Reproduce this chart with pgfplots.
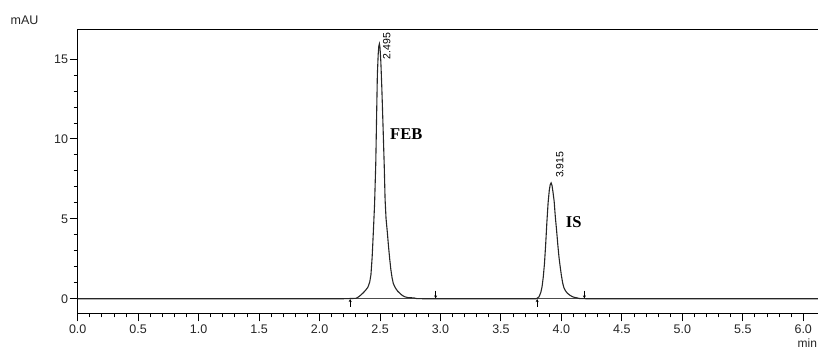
\documentclass[border=0pt]{standalone}
\usepackage{pgfplots}
\pgfplotsset{compat=1.18}
\usepackage{fontspec}
\setmainfont{Liberation Sans}
\newfontfamily\serifbold{Liberation Serif}
\usetikzlibrary{arrows.meta}

\begin{document}
\begin{tikzpicture}
\begin{axis}[
  at={(0,0)}, anchor=south west,
  scale only axis,
  width=740.3pt, height=284.3pt,
  xmin=0, xmax=6.122,
  ymin=-0.914, ymax=16.88,
  axis x line=bottom, axis y line=left,
  axis line style={-, line width=1pt, black},
  tick align=outside,
  major tick length=8pt, minor tick length=4pt,
  tick style={line width=0.9pt, black},
  xtick={0,0.5,...,6.0},
  ytick={0,5,10,15},
  minor x tick num=4,
  minor y tick num=4,
  xticklabel={\pgfmathprintnumber[fixed,fixed zerofill,precision=1]{\tick}},
  /pgf/number format/assume math mode=true,
  ticklabel style={font=\fontsize{12.5}{14}\selectfont, text=black!85},
  yticklabel style={inner sep=1.5pt},
  xticklabel style={inner sep=3pt},
  clip=false,
]
% top frame line
\draw[line width=1pt] (rel axis cs:0,1) -- (rel axis cs:1,1);
% baseline
\addplot[line width=1pt, black!70, mark=none] coordinates {(0,0) (6.122,0)};
% signal
\addplot[line width=1.1pt, black!85, mark=none] coordinates {
(0,0) (2.20,0) (2.30,0.02) (2.32,0.10) (2.34,0.22) (2.36,0.36) (2.38,0.52)
(2.40,0.72) (2.415,1.05) (2.425,1.5) (2.435,2.6) (2.445,4.2) (2.455,5.9)
(2.465,8.5) (2.472,11.5) (2.478,14.0) (2.485,15.3) (2.490,15.8) (2.495,15.95)
(2.500,15.7) (2.507,14.8) (2.515,13.2) (2.525,10.8) (2.535,8.3) (2.542,6.2)
(2.550,5.0) (2.560,4.2) (2.570,3.3) (2.580,2.5) (2.590,1.8) (2.600,1.3)
(2.610,0.95) (2.625,0.70) (2.645,0.48) (2.665,0.33) (2.685,0.20) (2.705,0.12)
(2.73,0.07) (2.78,0.05) (2.80,0.01) (2.85,0)
(3.79,0) (3.80,0.03) (3.815,0.12) (3.83,0.40) (3.84,0.75) (3.85,1.35)
(3.86,2.2) (3.87,3.4) (3.88,4.8) (3.89,6.0) (3.90,6.8) (3.908,7.15)
(3.915,7.25) (3.922,7.1) (3.93,6.7) (3.94,6.1) (3.95,5.1) (3.96,4.3)
(3.97,3.4) (3.98,2.6) (3.99,2.0) (4.00,1.45) (4.01,1.0) (4.02,0.70)
(4.035,0.48) (4.05,0.34) (4.07,0.22) (4.09,0.13) (4.11,0.08) (4.13,0.05)
(4.15,0.01) (4.2,0) (6.122,0)
};
% integration markers
\addplot[line width=0.6pt, black, -{Stealth[length=3pt,width=3pt]}] coordinates {(2.253,-0.5) (2.253,-0.02)};
\addplot[line width=0.6pt, black, -{Stealth[length=3pt,width=3pt]}] coordinates {(2.960,0.5) (2.960,0.02)};
\addplot[line width=0.6pt, black, -{Stealth[length=3pt,width=3pt]}] coordinates {(3.800,-0.5) (3.800,-0.02)};
\addplot[line width=0.6pt, black, -{Stealth[length=3pt,width=3pt]}] coordinates {(4.190,0.5) (4.190,0.02)};
% labels
\node[rotate=90, anchor=west, inner sep=0pt, font=\fontsize{10.5}{12}\selectfont] at (axis cs:2.555,14.97) {2.495};
\node[rotate=90, anchor=west, inner sep=0pt, font=\fontsize{10.5}{12}\selectfont] at (axis cs:3.986,7.55) {3.915};
\node[inner sep=0pt, font=\serifbold\bfseries\fontsize{16.5}{18}\selectfont] at (axis cs:2.717,10.29) {FEB};
\node[inner sep=0pt, font=\serifbold\bfseries\fontsize{16.5}{18}\selectfont] at (axis cs:4.102,4.77) {IS};
\node[inner sep=0pt, font=\fontsize{12.5}{14}\selectfont, text=black!85] at (axis cs:-0.44,17.41) {mAU};
\node[inner sep=0pt, anchor=base east, font=\fontsize{12}{14}\selectfont, text=black!85] at (axis cs:6.115,-3.085) {min};
\end{axis}
\pgfresetboundingbox
\useasboundingbox (-77.7pt,-35.7pt) rectangle (740.3pt,313.3pt);
\end{tikzpicture}
\end{document}
